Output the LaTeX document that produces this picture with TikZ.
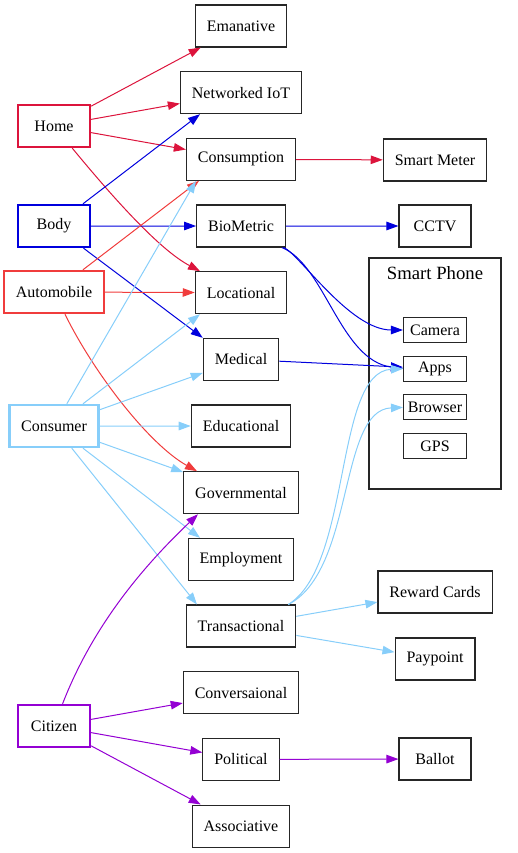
\documentclass[tikz,border=0pt]{standalone}
\usepackage{fontspec}
\setmainfont{Liberation Serif}
\usepackage{xcolor}
\usetikzlibrary{arrows.meta,positioning}

\definecolor{homered}{HTML}{DC143C}
\definecolor{bodyblue}{HTML}{0000DD}
\definecolor{autored}{HTML}{F03C3C}
\definecolor{skyblue}{HTML}{87CEFA}
\definecolor{citviolet}{HTML}{9400D3}

\begin{document}
\begin{tikzpicture}[
  x=1pt, y=-1pt,
  font=\fontsize{16pt}{19pt}\selectfont,
  node distance=23.57pt,
  box/.style={draw=black!85, line width=1.1pt, minimum width=72pt,
    minimum height=42pt, inner xsep=11.5pt},
  src/.style={box, line width=2.4pt},
  part/.style={draw=black!85, line width=1.1pt, minimum width=63pt,
    minimum height=25pt, inner xsep=3pt, inner ysep=1pt},
  arr/.style={-{Triangle[length=12pt,width=8.5pt]}, line width=1pt}
]
\useasboundingbox (0,0) rectangle (517,853);

% sources
\node[src, draw=homered] (home) at (54,126) {Home};
\node[src, draw=bodyblue] (body) at (54,226) {Body};
\node[src, draw=autored] (automobile) at (54,292) {Automobile};
\node[src, draw=skyblue] (consumer) at (54,426) {Consumer};
\node[src, draw=citviolet] (citizen) at (54,726) {Citizen};

% data kinds
\node[box] (emanative) at (241,26) {Emanative};
\node[box, below=of emanative] (netiot) {Networked IoT};
\node[box, below=of netiot] (consumption) {Consumption};
\node[box, below=of consumption] (biometric) {BioMetric};
\node[box, below=of biometric] (locational) {Locational};
\node[box, below=of locational] (medical) {Medical};
\node[box, below=of medical] (educational) {Educational};
\node[box, below=of educational] (governmental) {Governmental};
\node[box, below=of governmental] (employment) {Employment};
\node[box, below=of employment] (transactional) {Transactional};
\node[box, below=of transactional] (conversational) {Conversaional};
\node[box, below=of conversational] (political) {Political};
\node[box, below=of political] (associative) {Associative};

% collectors
\node[box] (smartmeter) at (435,160) {Smart Meter};
\node[box] (cctv) at (435,226) {CCTV};
\node[draw=black!85, line width=1.1pt, minimum width=132pt,
  minimum height=231pt] (phone) at (435,373.5) {};
\node[font=\fontsize{18.7pt}{22pt}\selectfont] (phonelabel) at (435,273) {Smart Phone};
\node[part] (camera) at (435,330) {Camera};
\node[part, below=12.6pt of camera] (apps) {Apps};
\node[part, below=12.6pt of apps] (browser) {Browser};
\node[part, below=12.6pt of browser] (gps) {GPS};
\node[box] (reward) at (435,592) {Reward Cards};
\node[box] (paypoint) at (435,659) {Paypoint};
\node[box] (ballot) at (435,759) {Ballot};

% home
\draw[arr, homered] (home) -- (emanative);
\draw[arr, homered] (home) -- (netiot);
\draw[arr, homered] (home) -- (consumption);
\draw[arr, homered] (home) .. controls (115,200) and (160,250) .. ([xshift=-41pt]locational.north);
\draw[arr, homered] (consumption) -- (smartmeter);

% body
\draw[arr, bodyblue] (body) -- ([xshift=-41pt]netiot.south);
\draw[arr, bodyblue] (body) -- (biometric);
\draw[arr, bodyblue] (body) -- (medical.north west);
\draw[arr, bodyblue] (biometric) -- (cctv);
\draw[arr, bodyblue] ([xshift=-2pt]biometric.south east) .. controls (300,255) and (350,330) .. (camera.west);
\draw[arr, bodyblue] ([xshift=-4pt]biometric.south east) .. controls (325,265) and (340,360) .. (apps.west);
\draw[arr, bodyblue] (medical) -- (apps);

% automobile
\draw[arr, autored] (automobile) -- ([xshift=-42pt]consumption.south);
\draw[arr, autored] (automobile) -- (locational);
\draw[arr, autored] (automobile) .. controls (95,375) and (150,445) .. ([xshift=-44pt]governmental.north);

% consumer
\draw[arr, skyblue] (consumer) -- ([xshift=-45pt]consumption.south);
\draw[arr, skyblue] (consumer) -- ([xshift=-41pt]locational.south);
\draw[arr, skyblue] (consumer) -- (medical);
\draw[arr, skyblue] (consumer) -- (educational);
\draw[arr, skyblue] (consumer) -- (governmental);
\draw[arr, skyblue] (consumer) -- ([xshift=-41pt]employment.north);
\draw[arr, skyblue] (consumer) -- ([xshift=-44pt]transactional.north);
\draw[arr, skyblue] ([xshift=-8pt]transactional.north east) .. controls (352,565) and (334,372) .. (apps.west);
\draw[arr, skyblue] ([xshift=-8pt]transactional.north east) .. controls (355,570) and (338,410) .. (browser.west);
\draw[arr, skyblue] (transactional) -- (reward);
\draw[arr, skyblue] (transactional) -- (paypoint);

% citizen
\draw[arr, citviolet] (citizen) .. controls (95,620) and (150,560) .. ([xshift=-43pt]governmental.south);
\draw[arr, citviolet] (citizen) -- (conversational);
\draw[arr, citviolet] (citizen) -- (political);
\draw[arr, citviolet] (citizen) -- (associative);
\draw[arr, citviolet] (political) -- (ballot);
\end{tikzpicture}
\end{document}
